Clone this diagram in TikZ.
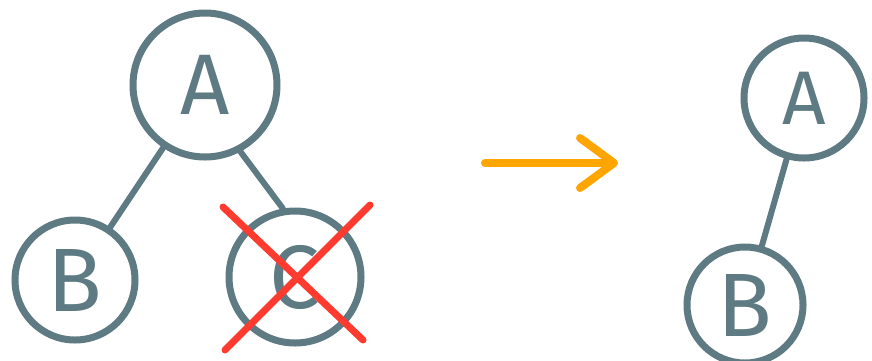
\documentclass[tikz,border=0pt]{standalone}
\usepackage{fontspec}
\setmainfont{Fira Sans}
\usetikzlibrary{arrows.meta,positioning,calc}
\definecolor{slate}{HTML}{5E7A82}
\definecolor{crossred}{HTML}{FF3B30}
\definecolor{arroworange}{HTML}{FFA500}

\begin{document}
\begin{tikzpicture}[
    x=1pt, y=-1pt,
    vertex/.style={draw=slate, circle, line width=7pt, inner sep=0pt, text=slate, minimum size=#1},
    edge/.style={draw=slate, line width=6pt, line cap=round},
    cross/.style={draw=crossred, line width=7pt, line cap=round},
    movearrow/.style={draw=arroworange, line width=8pt, line cap=round, line join=round,
        -{Straight Barb[length=34pt, width=50pt, line width=8pt, round]}}
]
    \useasboundingbox (0,0) rectangle (872,360);

    % tree before
    \node[vertex=144pt, font=\fontsize{86}{86}\selectfont] (A) at (205,85) {A};
    \node[vertex=120pt, font=\fontsize{90}{90}\selectfont] (B) at (75,280) {B};
    \node[vertex=132pt, font=\fontsize{90}{90}\selectfont] (C) at (295,277) {C};

    \draw[edge] (A) -- (B);
    \draw[edge] (A.-62) -- (C.100);

    % C is removed
    \coordinate (x1) at ($(C)+(-72,-70)$);
    \coordinate (x2) at ($(C)+(68,63)$);
    \coordinate (x3) at ($(C)+(75,-72)$);
    \coordinate (x4) at ($(C)+(-70,73)$);
    \draw[cross] (x1) -- (x2);
    \draw[cross] (x3) -- (x4);

    % arrow
    \coordinate (from) at (485,163);
    \coordinate (to) at (618,163);
    \draw[movearrow] (from) -- (to);

    % tree after
    \node[vertex=120pt, font=\fontsize{76}{76}\selectfont] (A2) at (804,98) {A};
    \node[vertex=116pt, font=\fontsize{90}{90}\selectfont] (B2) at (745,305) {B};

    \draw[edge] (A2) -- (B2);
\end{tikzpicture}
\end{document}
